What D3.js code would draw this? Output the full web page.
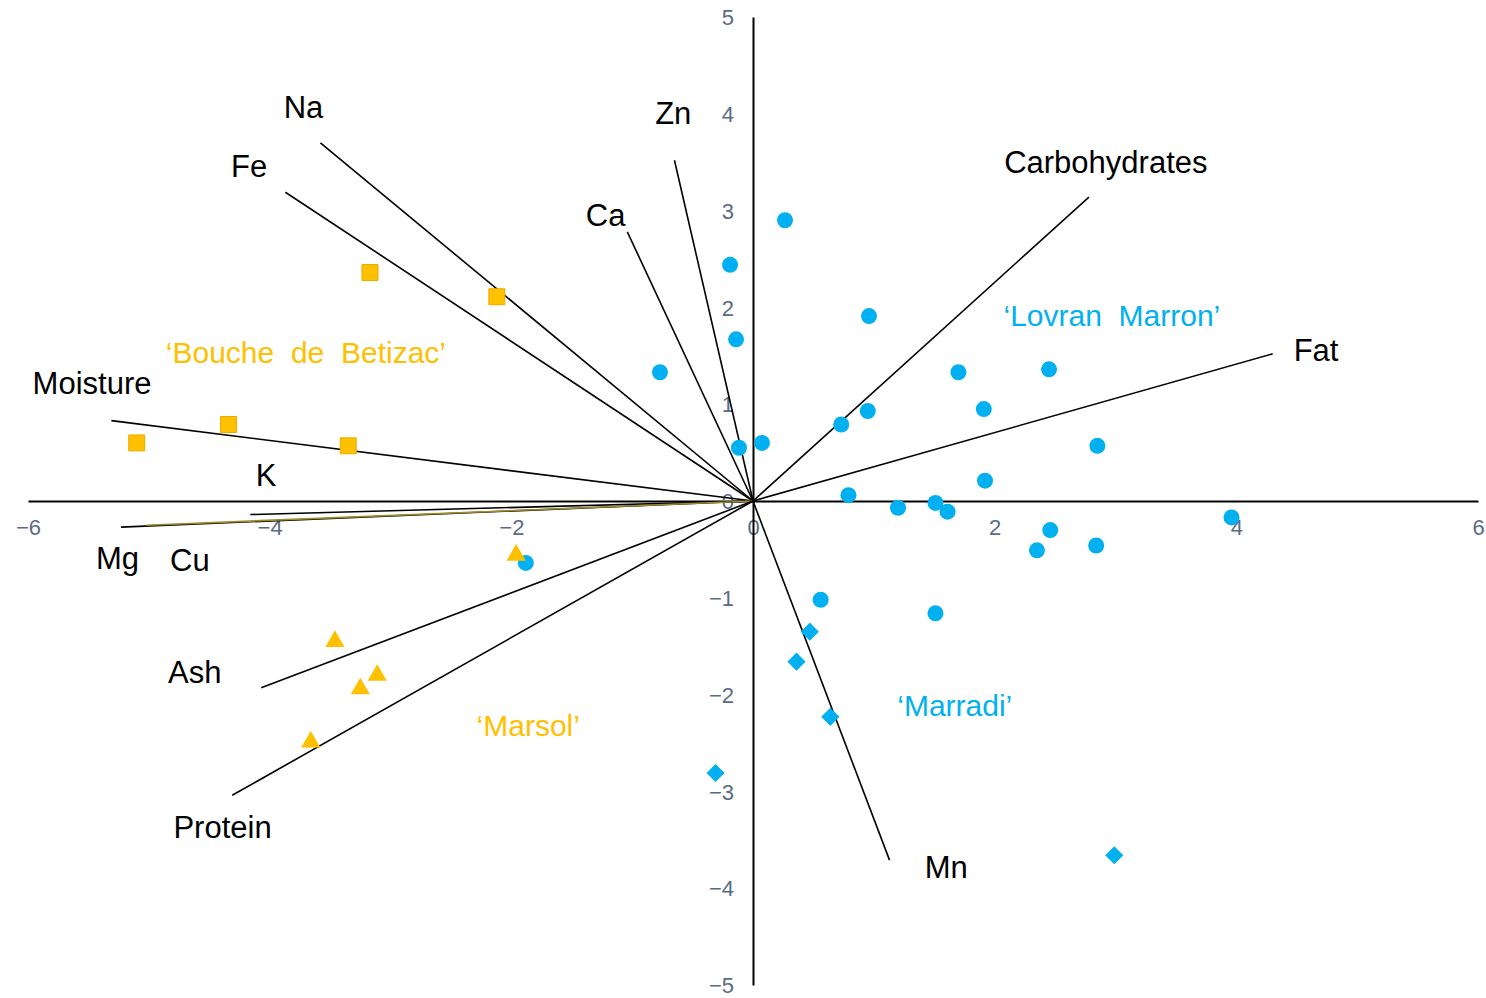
<!DOCTYPE html>
<html><head><meta charset="utf-8">
<script src="https://cdn.jsdelivr.net/npm/d3@7"></script>
<style>body{margin:0;background:#fff}svg{display:block}text{font-family:"Liberation Sans",Arial,sans-serif}</style>
</head><body><svg id="c" width="1486" height="998"></svg>
<script>
// ---- data ----
const xTicks = [-6,-4,-2,0,2,4,6];
const yTicks = [-5,-4,-3,-2,-1,0,1,2,3,4,5];

const variables = ["Na","Fe","Zn","Ca","Carbohydrates","Fat","Moisture","K","Mg","Cu","Ash","Protein","Mn"];
const loadX =     [-3.58,-3.87,-0.65,-1.04, 2.78, 4.30,-5.31,-4.16,-5.23,-5.02,-4.07,-4.31, 1.13];
const loadY =     [ 3.70, 3.19, 3.52, 2.78, 3.14, 1.52, 0.83,-0.14,-0.27,-0.25,-1.93,-3.04,-3.71];
const labelX =    [-3.72,-4.17,-0.66,-1.22, 2.92, 4.66,-5.47,-4.03,-5.26,-4.66,-4.62,-4.39, 1.60];
const labelY =    [ 4.06, 3.46, 4.00, 2.95, 3.50, 1.55, 1.21, 0.26,-0.59,-0.61,-1.77,-3.37,-3.79];

const lovranX = [0.265,-0.19,0.96,-0.14,-0.77,1.70,2.45,0.95,1.91,0.73,0.074,-0.116,2.85,1.92,0.79,1.20,1.51,1.61,3.96,2.46,2.35,2.84,0.56,1.51,-1.88];
const lovranY = [2.90,2.44,1.91,1.67,1.33,1.33,1.36,0.93,0.95,0.79,0.60,0.55,0.57,0.21,0.06,-0.07,-0.02,-0.11,-0.17,-0.30,-0.51,-0.46,-1.02,-1.16,-0.64];

const marradiX = [0.47,0.36,0.64,-0.31,2.99];
const marradiY = [-1.35,-1.66,-2.23,-2.81,-3.66];

const boucheX = [-3.17,-2.12,-4.34,-5.10,-3.35];
const boucheY = [2.36,2.11,0.79,0.60,0.57];

const marsolX = [-1.96,-3.46,-3.11,-3.25,-3.66];
const marsolY = [-0.56,-1.45,-1.80,-1.94,-2.49];

const groupNames = ["\u2018Bouche  de  Betizac\u2019","\u2018Lovran  Marron\u2019","\u2018Marsol\u2019","\u2018Marradi\u2019"];
const groupLabelX = [-3.70, 2.97, -1.86, 1.67];
const groupLabelY = [ 1.53, 1.92, -2.32, -2.11];

// ---- drawing ----
const svg = d3.select("#c");
const x = d3.scaleLinear().domain([-6,6]).range([28,1478]);
const y = d3.scaleLinear().domain([-5,5]).range([985,17]);
const BLUE = "#00b0f0", ORANGE = "#ffc000";

// axes
const fmt = d => d < 0 ? "\u2212" + Math.abs(d) : d;
const xAxis = d3.axisBottom(x).tickValues(xTicks).tickSize(0).tickPadding(23).tickFormat(fmt);
const gx = svg.append("g").attr("transform", `translate(0,${y(0)})`).call(xAxis);
const yAxis = d3.axisLeft(y).tickValues(yTicks).tickSize(0).tickPadding(19).tickFormat(fmt);
const gy = svg.append("g").attr("transform", `translate(${x(0)},0)`).call(yAxis);
[gx, gy].forEach(g => {
  g.attr("font-size", 22).attr("font-family", null);
  g.select(".domain").attr("stroke", "#000").attr("stroke-width", 2);
  g.selectAll("text").attr("fill", "#5b6b87").attr("font-size", 22);
});
gx.selectAll("text").attr("dy", "0.5em");
gy.selectAll("text").attr("dy", "0.35em");

// loading lines
const lines = svg.append("g");
variables.forEach((v, i) => {
  lines.append("line")
    .attr("x1", x(0)).attr("y1", y(0))
    .attr("x2", x(loadX[i])).attr("y2", y(loadY[i]))
    .attr("stroke", v === "Cu" ? "#a08a2a" : "#000")
    .attr("stroke-width", 1.6);
});
variables.forEach((v, i) => {
  svg.append("text").attr("x", x(labelX[i])).attr("y", y(labelY[i]))
    .attr("text-anchor", "middle").attr("dominant-baseline", "central")
    .attr("font-size", 31).attr("fill", "#000").text(v);
});

// points
const sym = (type, size) => d3.symbol().type(type).size(size)();
const pts = svg.append("g");
lovranX.forEach((d, i) => pts.append("circle").attr("cx", x(d)).attr("cy", y(lovranY[i])).attr("r", 8).attr("fill", BLUE));
marradiX.forEach((d, i) => pts.append("path").attr("d", sym(d3.symbolSquare, 165))
  .attr("transform", `translate(${x(d)},${y(marradiY[i])}) rotate(45)`).attr("fill", BLUE));
boucheX.forEach((d, i) => pts.append("path").attr("d", sym(d3.symbolSquare, 256))
  .attr("transform", `translate(${x(d)},${y(boucheY[i])})`).attr("fill", ORANGE).attr("stroke", "#e8ac00").attr("stroke-width", 1));
marsolX.forEach((d, i) => pts.append("path").attr("d", sym(d3.symbolTriangle, 160))
  .attr("transform", `translate(${x(d)},${y(marsolY[i])})`).attr("fill", ORANGE));

// group labels
const gCol = [ORANGE, BLUE, ORANGE, BLUE];
groupNames.forEach((n, i) => {
  svg.append("text").attr("x", x(groupLabelX[i])).attr("y", y(groupLabelY[i]))
    .attr("text-anchor", "middle").attr("dominant-baseline", "central")
    .attr("font-size", 30).attr("fill", gCol[i]).style("white-space", "pre").text(n);
});
</script></body></html>
